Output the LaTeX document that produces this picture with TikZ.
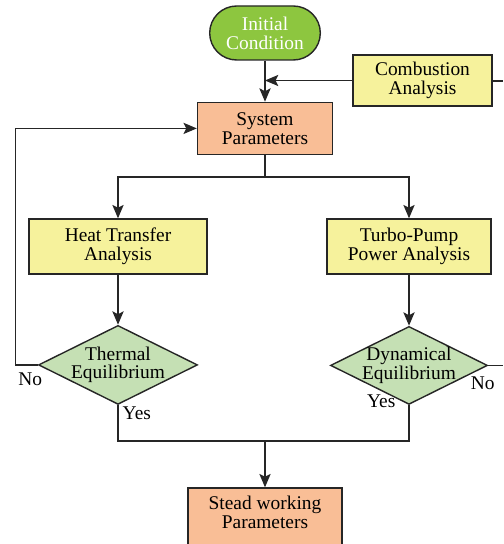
\documentclass[tikz,border=0pt]{standalone}
\usepackage{fontspec}
\setmainfont{Liberation Serif}
\usepackage{tikz}
\usetikzlibrary{ arrows.meta, calc, positioning, shapes.geometric, shapes.misc }
\definecolor{startgreen}{RGB}{141,198,63}
\definecolor{boxyellow}{RGB}{246,242,156}
\definecolor{boxsalmon}{RGB}{249,190,150}
\definecolor{decgreen}{RGB}{197,224,180}
\tikzset{
>={Stealth[length=9.5pt,width=8pt,inset=2pt]}, % bold filled arrow heads
every node/.style={font=\fontsize{13.8}{13.4}\selectfont, align=center},
startbox/.style={rounded rectangle, draw=black!85, line width=1pt, fill=startgreen, text=white, minimum width=3cm, minimum height=1.35cm},
procbox/.style={rectangle, draw=black!85, line width=1pt, fill=boxyellow, inner sep=1pt},
parambox/.style={rectangle, draw=black!85, line width=1pt, fill=boxsalmon, inner sep=1pt},
decision/.style={diamond, aspect=2, draw=black!85, line width=1pt, fill=decgreen, inner sep=0pt},
lbl/.style={inner sep=1pt},
flow/.style={line width=0.9pt, draw=black!85},
}

\begin{document}
\begin{tikzpicture}
  \useasboundingbox (0,0) rectangle (12.575,-13.6);

  % Top part -----------------------------------------
  \node[startbox] (init) at (6.625,-0.825) {Initial\\Condition};
  \node[parambox, minimum width=3.375cm, minimum height=1.3cm, below=1.025cm of init] (sys) {System\\Parameters};
  \node[procbox, minimum width=3.475cm, minimum height=1.275cm] (comb) at (10.5625,-2.0125) {Combustion\\Analysis};

  % Two branches -------------------------------------
  \node[procbox, minimum width=4.45cm, minimum height=1.375cm] (heat) at (2.95,-6.1625) {Heat Transfer\\Analysis};
  \node[procbox, minimum width=4.1cm, minimum height=1.375cm] (turbo) at (10.225,-6.1625) {Turbo-Pump\\Power Analysis};
  \node[decision, minimum width=3.975cm, minimum height=1.975cm, below=1.25cm of heat,
        label={center:Thermal\\Equilibrium}] (therm) {};
  \node[decision, minimum width=3.925cm, minimum height=1.95cm, below=1.275cm of turbo,
        label={center:Dynamical\\Equilibrium}] (dyn) {};

  % helper points
  \coordinate (split) at ($(sys.south)+(0,-0.55)$);
  \coordinate (merge) at (sys.south |- 0,-11.025);
  \coordinate (combR) at (12.575,-2.025);
  \coordinate (dynR) at (12.575,0 |- dyn.east);

  % Result (runs off the bottom edge) ----------------
  \node[parambox, minimum width=3.85cm, minimum height=1.5cm, text depth=0.3cm] (stead) at (merge |- 0,-12.95) {Stead working\\Parameters};

  \draw[flow,->] (init.south) -- (init.south |- sys.north);
  \draw[flow,->] (comb.west) -- (comb.west -| init.south);
  \draw[flow] (comb.east |- combR) -- (combR);

  \draw[flow] (sys.south) -- (split);
  \draw[flow,->] (split) -| (heat.north);
  \draw[flow,->] (split) -| (turbo.north);
  \draw[flow,->] (heat) -- (therm);
  \draw[flow,->] (turbo) -- (dyn);

  \draw[flow,->] (therm.west) -- ++(-0.55,0) |- (sys.west);
  \draw[flow] (dyn.east) -- (dynR);
  \draw[flow] (therm.south) |- (merge) -| (dyn.south);
  \draw[flow,->] (merge) -- (stead.north);

  \node[lbl, below left=0.15cm and -0.15cm of therm.west] (no1) {No};
  \node[lbl, below right=0cm and 0.075cm of therm.south] (yes1) {Yes};
  \node[lbl, above left=-0.1cm and 0.3cm of dyn.south] (yes2) {Yes};
  \node[lbl, below left=0.25cm and -0.2cm of dyn.east] (no2) {No};
\end{tikzpicture}
\end{document}
